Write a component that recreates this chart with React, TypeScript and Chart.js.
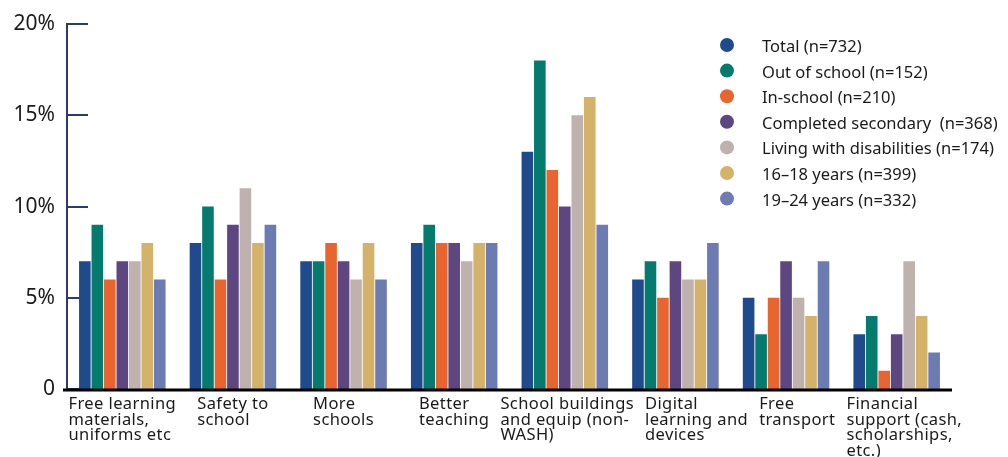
import { useEffect, useRef } from "react";
import { Chart, registerables } from "chart.js";

Chart.register(...registerables);

const categories: string[][] = [
  ["Free learning", "materials,", "uniforms etc"],
  ["Safety to", "school"],
  ["More", "schools"],
  ["Better", "teaching"],
  ["School buildings", "and equip (non-", "WASH)"],
  ["Digital", "learning and", "devices"],
  ["Free", "transport"],
  ["Financial", "support (cash,", "scholarships,", "etc.)"],
];

const total = [7, 8, 7, 8, 13, 6, 5, 3];
const outOfSchool = [9, 10, 7, 9, 18, 7, 3, 4];
const inSchool = [6, 6, 8, 8, 12, 5, 5, 1];
const completedSecondary = [7, 9, 7, 8, 10, 7, 7, 3];
const livingWithDisabilities = [7, 11, 6, 7, 15, 6, 5, 7];
const age16to18 = [8, 8, 8, 8, 16, 6, 4, 4];
const age19to24 = [6, 9, 6, 8, 9, 8, 7, 2];

const seriesLabels = [
  "Total (n=732)",
  "Out of school (n=152)",
  "In-school (n=210)",
  "Completed secondary  (n=368)",
  "Living with disabilities (n=174)",
  "16–18 years (n=399)",
  "19–24 years (n=332)",
];
const seriesValues = [total, outOfSchool, inSchool, completedSecondary, livingWithDisabilities, age16to18, age19to24];
const seriesColors = ["#1f4a8c", "#057b6f", "#e8652f", "#5e4780", "#bfb1ae", "#d4b26a", "#6c7bb2"];

const yTicks = [0, 5, 10, 15, 20];
const yTickLabels = ["0", "5%", "10%", "15%", "20%"];

const FONT = "'Noto Sans', sans-serif";

const decor = {
  id: "decor",
  beforeDatasetsDraw(chart: any) {
    const { ctx, chartArea, scales } = chart;
    const { left, top, bottom } = chartArea;
    const y = scales.y;
    ctx.save();
    ctx.strokeStyle = "#2b3a70";
    ctx.lineWidth = 2;
    ctx.beginPath();
    ctx.moveTo(left, top - 1);
    ctx.lineTo(left, bottom);
    ctx.stroke();
    yTicks.forEach((v) => {
      const py = Math.round(y.getPixelForValue(v));
      ctx.beginPath();
      ctx.moveTo(left, py);
      ctx.lineTo(left + 21, py);
      ctx.stroke();
    });
    ctx.fillStyle = "#1a1a1a";
    ctx.font = "21px " + FONT;
    ctx.textAlign = "right";
    ctx.textBaseline = "alphabetic";
    yTickLabels.forEach((t, i) => {
      ctx.fillText(t, left - 12, y.getPixelForValue(yTicks[i]) + 6);
    });
    ctx.restore();
  },
  afterDatasetsDraw(chart: any) {
    const { ctx, chartArea, scales } = chart;
    const { left, right, top, bottom } = chartArea;
    const x = scales.x;
    ctx.save();
    ctx.strokeStyle = "#000";
    ctx.lineWidth = 3;
    ctx.beginPath();
    ctx.moveTo(left - 4, bottom + 1);
    ctx.lineTo(right, bottom + 1);
    ctx.stroke();

    ctx.fillStyle = "#1a1a1a";
    ctx.font = "16.5px " + FONT;
    ctx.textAlign = "left";
    ctx.textBaseline = "alphabetic";
    (ctx as any).letterSpacing = "0.4px";
    let prevRight = -Infinity;
    categories.forEach((lines, i) => {
      const cx = x.getPixelForValue(i);
      const w = Math.max(...lines.map((l) => ctx.measureText(l).width));
      const lx = Math.max(cx - w / 2, prevRight + 11);
      prevRight = lx + w;
      lines.forEach((l, j) => {
        ctx.fillText(l, lx, bottom + 20 + j * 15.5);
      });
    });
    (ctx as any).letterSpacing = "0px";

    const dotX = right - 225;
    seriesLabels.forEach((lab, i) => {
      const cy = top + 21 + i * 25.6;
      ctx.fillStyle = seriesColors[i];
      ctx.beginPath();
      ctx.arc(dotX, cy, 7, 0, Math.PI * 2);
      ctx.fill();
      ctx.fillStyle = "#1a1a1a";
      ctx.fillText(lab, dotX + 35, cy + 7);
    });
    ctx.restore();
  },
};

export default function App() {
  const ref = useRef<HTMLCanvasElement>(null);
  useEffect(() => {
    document.body.style.margin = "0";
    const chart = new Chart(ref.current!, {
      type: "bar",
      data: {
        labels: categories.map((c) => c.join(" ")),
        datasets: seriesValues.map((vals, i) => ({
          label: seriesLabels[i],
          data: vals,
          backgroundColor: seriesColors[i],
          borderWidth: 0,
          barPercentage: 0.93,
          categoryPercentage: 0.79,
        })),
      },
      options: {
        responsive: false,
        animation: false,
        layout: { padding: { left: 67, right: 56, top: 24, bottom: 68 } },
        plugins: { legend: { display: false }, tooltip: { enabled: false } },
        scales: {
          x: { display: false },
          y: { display: false, min: 0, max: 20 },
        },
      },
      plugins: [decor],
    });
    return () => chart.destroy();
  }, []);
  return (
    <div style={{ position: "absolute", left: 0, top: 0, width: 1008, height: 457, background: "#fff" }}>
      <canvas ref={ref} width={1008} height={457} />
    </div>
  );
}
